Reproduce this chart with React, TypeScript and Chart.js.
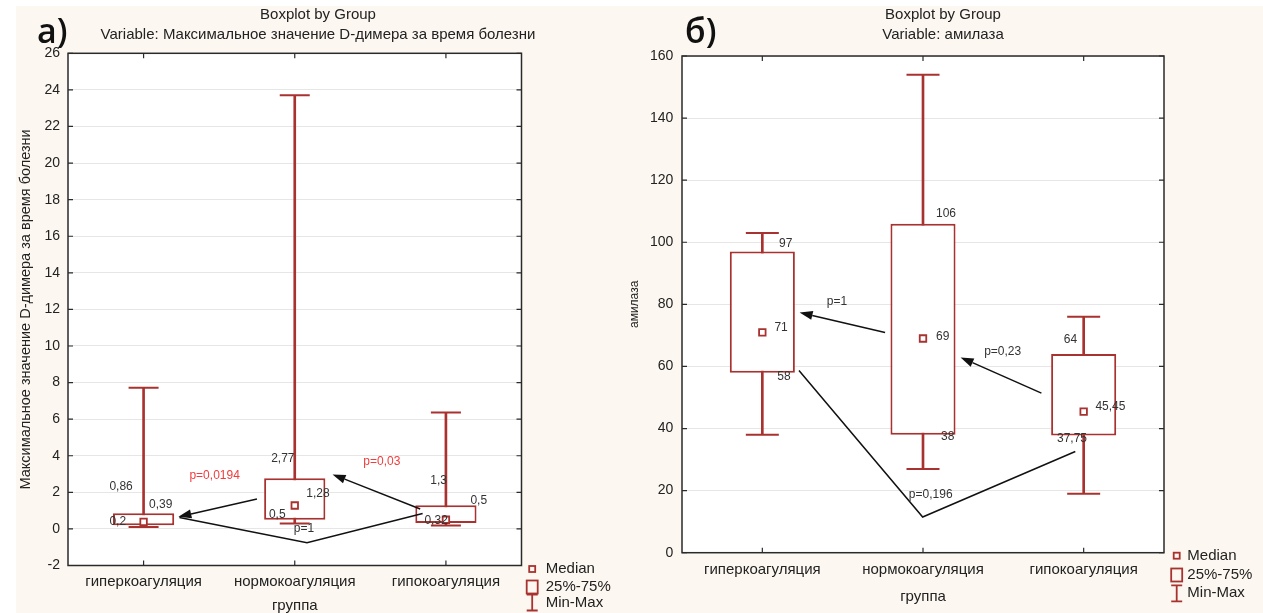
import { useEffect, useRef } from 'react';
import { Chart, registerables } from 'chart.js';

Chart.register(...registerables);

// ---------- data ----------
const categories = ['гиперкоагуляция', 'нормокоагуляция', 'гипокоагуляция'];

// panel а) Максимальное значение D-димера
const dimerMin = [0.1, 0.3, 0.18];
const dimerQ1 = [0.2, 0.5, 0.32];
const dimerMedian = [0.39, 1.28, 0.5];
const dimerQ3 = [0.86, 2.77, 1.3];
const dimerMax = [7.72, 23.7, 6.36];
const dimerTicks = [-2, 0, 2, 4, 6, 8, 10, 12, 14, 16, 18, 20, 22, 24, 26];
const dimerP = ['p=0,0194', 'p=0,03', 'p=1'];

// panel б) амилаза
const amylaseMin = [38, 27, 19];
const amylaseQ1 = [58, 38, 37.75];
const amylaseMedian = [71, 69, 45.45];
const amylaseQ3 = [97, 106, 64];
const amylaseMax = [103, 154, 76];
const amylaseTicks = [0, 20, 40, 60, 80, 100, 120, 140, 160];
const amylaseP = ['p=1', 'p=0,23', 'p=0,196'];

// ---------- styles ----------
const RED = '#a8322f';
const PRED = '#f03c3c';
const INK = '#222222';
const CREAM = '#fcf8f1';
const FONT = "'Liberation Sans', Arial, sans-serif";
const fmt = (v: number) => String(v).replace('.', ',');

type Txt = { t: string; x: number; y: number; color?: string; align?: CanvasTextAlign };
type Panel = {
  letter: string;
  letterX: number;
  titleX: number;
  variable: string;
  yTitle: string;
  yTitleSize: number;
  yTitlePad: number;
  yTickPad: number;
  xTickPad: number;
  xTitlePadBottom: number;
  creamLeft: number;
  padding: { left: number; top: number; right: number; bottom: number };
  yWidth: number;
  xHeight: number;
  ticks: number[];
  min: number[];
  q1: number[];
  med: number[];
  q3: number[];
  max: number[];
  capRadius: number;
  labels: Txt[];
  arrows: number[][][];
  lines: number[][][];
  legend: { mx: number; tx: number; rows: number[] };
};

const panelA: Panel = {
  letter: 'а)',
  letterX: 37,
  titleX: 318,
  variable: 'Variable: Максимальное значение D-димера за время болезни',
  yTitle: 'Максимальное значение D-димера за время болезни',
  yTitleSize: 14.5,
  yTitlePad: 17.3,
  yTickPad: 8,
  xTickPad: 7,
  xTitlePadBottom: -2,
  creamLeft: 16,
  padding: { left: 0, top: 53.3, right: 625 - 521.5, bottom: 0 },
  yWidth: 68,
  xHeight: 47.5,
  ticks: dimerTicks,
  min: dimerMin,
  q1: dimerQ1,
  med: dimerMedian,
  q3: dimerQ3,
  max: dimerMax,
  capRadius: 15,
  labels: [
    { t: fmt(dimerQ3[0]), x: -0.226, y: 2.3 },
    { t: fmt(dimerMedian[0]), x: 0.036, y: 1.31 },
    { t: fmt(dimerQ1[0]), x: -0.226, y: 0.42 },
    { t: fmt(dimerQ3[1]), x: 0.844, y: 3.84 },
    { t: fmt(dimerMedian[1]), x: 1.076, y: 1.91 },
    { t: fmt(dimerQ1[1]), x: 0.829, y: 0.78 },
    { t: fmt(dimerQ3[2]), x: 1.897, y: 2.66 },
    { t: fmt(dimerMedian[2]), x: 2.162, y: 1.55 },
    { t: fmt(dimerQ1[2]), x: 1.858, y: 0.45 },
    { t: dimerP[0], x: 0.47, y: 2.91, color: PRED, align: 'center' },
    { t: dimerP[1], x: 1.576, y: 3.66, color: PRED, align: 'center' },
    { t: dimerP[2], x: 1.061, y: 0.0, align: 'center' },
  ],
  arrows: [
    [[0.75, 1.64], [0.23, 0.66]],
    [[1.83, 1.09], [1.25, 2.98]],
  ],
  lines: [[[1.846, 0.84], [1.081, -0.75], [0.237, 0.63]]],
  legend: { mx: 532.2, tx: 545.7, rows: [569, 587, 602.5] },
};

const OFFB = 625;
const panelB: Panel = {
  letter: 'б)',
  letterX: 685 - OFFB,
  titleX: 943 - OFFB,
  variable: 'Variable: амилаза',
  yTitle: 'амилаза',
  yTitleSize: 12,
  yTitlePad: 2,
  yTickPad: 8.7,
  xTickPad: 8.3,
  xTitlePadBottom: 7,
  creamLeft: 0,
  padding: { left: 0, top: 56, right: 638 - 539, bottom: 0 },
  yWidth: 57,
  xHeight: 60.3,
  ticks: amylaseTicks,
  min: amylaseMin,
  q1: amylaseQ1,
  med: amylaseMedian,
  q3: amylaseQ3,
  max: amylaseMax,
  capRadius: 16.5,
  labels: [
    { t: fmt(amylaseQ3[0]), x: 0.104, y: 99.5 },
    { t: fmt(amylaseMedian[0]), x: 0.075, y: 72.4 },
    { t: fmt(amylaseQ1[0]), x: 0.093, y: 56.6 },
    { t: fmt(amylaseQ3[1]), x: 1.081, y: 109.2 },
    { t: fmt(amylaseMedian[1]), x: 1.081, y: 69.6 },
    { t: fmt(amylaseQ1[1]), x: 1.112, y: 37.5 },
    { t: fmt(amylaseQ3[2]), x: 1.876, y: 68.6 },
    { t: fmt(amylaseMedian[2]), x: 2.073, y: 47.1 },
    { t: fmt(amylaseQ1[2]), x: 1.834, y: 36.6 },
    { t: amylaseP[0], x: 0.464, y: 80.7, align: 'center' },
    { t: amylaseP[1], x: 1.496, y: 64.6, align: 'center' },
    { t: amylaseP[2], x: 1.048, y: 18.6, align: 'center' },
  ],
  arrows: [
    [[0.764, 70.9], [0.232, 77.4]],
    [[1.737, 51.4], [1.234, 62.9]],
  ],
  lines: [[[0.228, 58.7], [0.998, 11.5], [1.948, 32.6]]],
  legend: { mx: 1176.7 - OFFB, tx: 1187.3 - OFFB, rows: [555.7, 575, 593.3] },
};

function makeChart(canvas: HTMLCanvasElement, p: Panel) {
  const decor = {
    id: 'decor',
    beforeDraw(chart: any) {
      const ctx = chart.ctx as CanvasRenderingContext2D;
      const { width, height, chartArea: a } = chart;
      ctx.save();
      ctx.fillStyle = '#ffffff';
      ctx.fillRect(0, 0, width, height);
      ctx.fillStyle = CREAM;
      ctx.fillRect(p.creamLeft, 6, width - p.creamLeft, height - 6);
      ctx.fillStyle = '#ffffff';
      ctx.fillRect(a.left, a.top, a.right - a.left, a.bottom - a.top);
      ctx.restore();
    },
    afterDatasetsDraw(chart: any) {
      const ctx = chart.ctx as CanvasRenderingContext2D;
      const xs = chart.scales.x;
      const ys = chart.scales.y;
      const px = (v: number) => xs.getPixelForValue(v);
      const py = (v: number) => ys.getPixelForValue(v);
      ctx.save();
      ctx.strokeStyle = '#111';
      ctx.fillStyle = '#111';
      ctx.lineWidth = 1.5;
      for (const ln of p.lines) {
        ctx.beginPath();
        ln.forEach(([x, y], i) => (i ? ctx.lineTo(px(x), py(y)) : ctx.moveTo(px(x), py(y))));
        ctx.stroke();
      }
      for (const ar of p.arrows) {
        const x1 = px(ar[0][0]), y1 = py(ar[0][1]);
        const x2 = px(ar[1][0]), y2 = py(ar[1][1]);
        const ang = Math.atan2(y2 - y1, x2 - x1);
        const L = 13, W = 4.5;
        const bx = x2 - Math.cos(ang) * L, by = y2 - Math.sin(ang) * L;
        ctx.beginPath();
        ctx.moveTo(x1, y1);
        ctx.lineTo(bx, by);
        ctx.stroke();
        ctx.beginPath();
        ctx.moveTo(x2, y2);
        ctx.lineTo(bx + Math.sin(ang) * W, by - Math.cos(ang) * W);
        ctx.lineTo(bx - Math.sin(ang) * W, by + Math.cos(ang) * W);
        ctx.closePath();
        ctx.fill();
      }
      ctx.font = `12px ${FONT}`;
      ctx.textBaseline = 'middle';
      for (const t of p.labels) {
        ctx.fillStyle = t.color || '#333';
        ctx.textAlign = t.align || 'left';
        ctx.fillText(t.t, px(t.x), py(t.y));
      }
      ctx.restore();
    },
    afterDraw(chart: any) {
      const ctx = chart.ctx as CanvasRenderingContext2D;
      const a = chart.chartArea;
      const xs = chart.scales.x;
      const ys = chart.scales.y;
      ctx.save();
      // frame
      ctx.strokeStyle = '#2a2a2a';
      ctx.lineWidth = 1.5;
      ctx.strokeRect(a.left, a.top, a.right - a.left, a.bottom - a.top);
      ctx.lineWidth = 1.2;
      ctx.beginPath();
      for (const t of ys.ticks) {
        const y = ys.getPixelForValue(t.value);
        ctx.moveTo(a.left, y);
        ctx.lineTo(a.left + 5, y);
        ctx.moveTo(a.right, y);
        ctx.lineTo(a.right - 5, y);
      }
      categories.forEach((_, i) => {
        const x = xs.getPixelForValue(i);
        ctx.moveTo(x, a.top);
        ctx.lineTo(x, a.top + 5);
        ctx.moveTo(x, a.bottom);
        ctx.lineTo(x, a.bottom - 5);
      });
      ctx.stroke();
      // titles
      ctx.fillStyle = INK;
      ctx.textAlign = 'center';
      ctx.textBaseline = 'middle';
      ctx.font = `15px ${FONT}`;
      ctx.fillText('Boxplot by Group', p.titleX, 15);
      ctx.fillText(p.variable, p.titleX, 35);
      ctx.textAlign = 'left';
      ctx.textBaseline = 'alphabetic';
      ctx.font = `600 34px 'Open Sans', 'Noto Sans', sans-serif`;
      ctx.fillStyle = '#111';
      ctx.fillText(p.letter, p.letterX, 43);
      // legend
      const { mx, tx, rows } = p.legend;
      ctx.strokeStyle = RED;
      ctx.lineWidth = 1.8;
      ctx.strokeRect(mx - 3, rows[0] - 3, 6, 6);
      ctx.strokeRect(mx - 5.5, rows[1] - 6.5, 11, 13);
      ctx.beginPath();
      ctx.moveTo(mx - 5.5, rows[2] - 8);
      ctx.lineTo(mx + 5.5, rows[2] - 8);
      ctx.moveTo(mx, rows[2] - 8);
      ctx.lineTo(mx, rows[2] + 8);
      ctx.moveTo(mx - 5.5, rows[2] + 8);
      ctx.lineTo(mx + 5.5, rows[2] + 8);
      ctx.stroke();
      ctx.fillStyle = INK;
      ctx.font = `15px ${FONT}`;
      ctx.textBaseline = 'middle';
      ctx.fillText('Median', tx, rows[0]);
      ctx.fillText('25%-75%', tx, rows[1]);
      ctx.fillText('Min-Max', tx, rows[2]);
      ctx.restore();
    },
  };

  return new Chart(canvas, {
    type: 'bar',
    data: {
      labels: categories,
      datasets: [
        {
          type: 'bar',
          data: p.min.map((v, i) => [v, p.max[i]]),
          backgroundColor: RED,
          borderWidth: 0,
          barThickness: 2,
          grouped: false,
          order: 3,
        } as any,
        {
          type: 'bar',
          data: p.q1.map((v, i) => [v, p.q3[i]]),
          backgroundColor: '#ffffff',
          borderColor: RED,
          borderWidth: 2,
          borderSkipped: false,
          barPercentage: 0.405,
          categoryPercentage: 1,
          grouped: false,
          order: 2,
        } as any,
        {
          type: 'line',
          data: p.max,
          showLine: false,
          pointStyle: 'line',
          pointRadius: p.capRadius,
          pointBorderColor: RED,
          pointBorderWidth: 2,
          order: 1,
        } as any,
        {
          type: 'line',
          data: p.min,
          showLine: false,
          pointStyle: 'line',
          pointRadius: p.capRadius,
          pointBorderColor: RED,
          pointBorderWidth: 2,
          order: 1,
        } as any,
        {
          type: 'line',
          data: p.med,
          showLine: false,
          pointStyle: 'rect',
          pointRadius: 4.6,
          pointBackgroundColor: '#ffffff',
          pointBorderColor: RED,
          pointBorderWidth: 1.8,
          order: 0,
        } as any,
      ],
    },
    options: {
      animation: false,
      responsive: false,
      devicePixelRatio: 1,
      events: [],
      layout: { padding: p.padding },
      plugins: { legend: { display: false }, tooltip: { enabled: false } },
      scales: {
        x: {
          type: 'category',
          offset: true,
          grid: { display: false, drawTicks: false },
          border: { display: false },
          ticks: { font: { size: 15, family: FONT }, color: INK, padding: p.xTickPad, maxRotation: 0, autoSkip: false },
          title: {
            display: true,
            text: 'группа',
            font: { size: 15, family: FONT },
            color: INK,
            padding: { top: 0, bottom: p.xTitlePadBottom },
          },
          afterFit(s: any) {
            s.height = p.xHeight;
          },
        },
        y: {
          type: 'linear',
          min: p.ticks[0],
          max: p.ticks[p.ticks.length - 1],
          afterBuildTicks(s: any) {
            s.ticks = p.ticks.map((v) => ({ value: v }));
          },
          grid: { color: '#e6e6e6', drawTicks: false, lineWidth: 1 },
          border: { display: false },
          ticks: { font: { size: 14, family: FONT }, color: INK, padding: p.yTickPad, autoSkip: false },
          title: {
            display: true,
            text: p.yTitle,
            font: { size: p.yTitleSize, family: FONT },
            color: INK,
            padding: { top: p.yTitlePad, bottom: 0 },
          },
          afterFit(s: any) {
            s.width = p.yWidth;
          },
        },
      },
    } as any,
    plugins: [decor],
  });
}

export default function App() {
  const refA = useRef<HTMLCanvasElement>(null);
  const refB = useRef<HTMLCanvasElement>(null);
  useEffect(() => {
    const a = makeChart(refA.current!, panelA);
    const b = makeChart(refB.current!, panelB);
    return () => {
      a.destroy();
      b.destroy();
    };
  }, []);
  return (
    <div style={{ position: 'fixed', left: 0, top: 0, width: 1263, height: 613, background: '#fff', overflow: 'hidden' }}>
      <canvas ref={refA} width={625} height={613} style={{ position: 'absolute', left: 0, top: 0 }} />
      <canvas ref={refB} width={638} height={613} style={{ position: 'absolute', left: OFFB, top: 0 }} />
    </div>
  );
}
